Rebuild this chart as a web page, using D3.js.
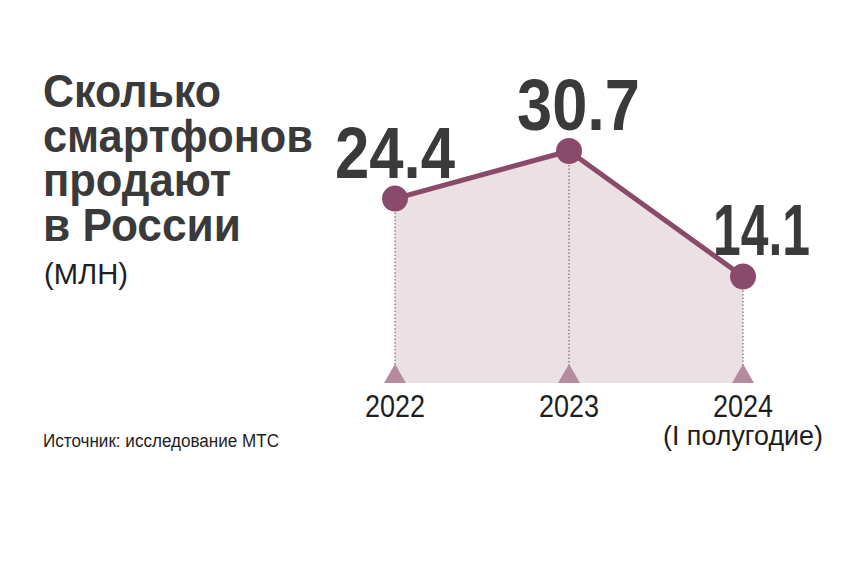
<!DOCTYPE html>
<html><head><meta charset="utf-8">
<script src="https://cdn.jsdelivr.net/npm/d3@7"></script>
<style>
html,body{margin:0;padding:0;background:#fff;}
svg{display:block;}
</style></head>
<body>
<script>
const categories = ["2022", "2023", "2024"];
const subLabels = ["", "", "(I полугодие)"];
const values = [24.4, 30.7, 14.1];
const valueLabels = ["24.4", "30.7", "14.1"];
const titleLines = ["Сколько", "смартфонов", "продают", "в России"];
const unitLabel = "(МЛН)";
const sourceText = "Источник: исследование МТС";

const W = 868, H = 576;
const svg = d3.select("body").append("svg").attr("width", W).attr("height", H);
svg.append("rect").attr("width", W).attr("height", H).attr("fill", "#fff");

const font = "'Liberation Sans', Arial, Helvetica, sans-serif";
const textColor = "#3a3a3a";

// helper: fit text horizontally (condensed look) to a width
function fit(sel, w) {
  sel.attr("textLength", w).attr("lengthAdjust", "spacingAndGlyphs");
}

const x = d3.scalePoint().domain(categories).range([395, 743]);
const y = d3.scaleLinear().domain([0, 30.7]).range([383, 151]);

const data = categories.map((c, i) => ({c, v: values[i], lab: valueLabels[i], sub: subLabels[i]}));

// area
const area = d3.area().x(d => x(d.c)).y0(y(0)).y1(d => y(d.v));
svg.append("path").datum(data).attr("d", area).attr("fill", "#ebe0e3");

// dotted lines
svg.selectAll(".drop").data(data).join("line")
  .attr("x1", d => x(d.c)).attr("x2", d => x(d.c))
  .attr("y1", d => y(d.v)).attr("y2", y(0))
  .attr("stroke", "#555").attr("stroke-width", 1).attr("stroke-dasharray", "1.5,2");

// triangles
const triH = 19, triW = 22;
svg.selectAll(".tri").data(data).join("path")
  .attr("d", d => {
    const cx = x(d.c), b = y(0);
    return `M${cx - triW/2},${b} L${cx},${b - triH} L${cx + triW/2},${b} Z`;
  })
  .attr("fill", "#b68b9d");

// line
const line = d3.line().x(d => x(d.c)).y(d => y(d.v));
svg.append("path").datum(data).attr("d", line)
  .attr("fill", "none").attr("stroke", "#8a4a6a").attr("stroke-width", 5).attr("stroke-linejoin", "round");

// dots
svg.selectAll(".dot").data(data).join("circle")
  .attr("cx", d => x(d.c)).attr("cy", d => y(d.v)).attr("r", 13)
  .attr("fill", "#8a4a6b");

// value labels
const valLayout = [{dx: 0, dy: -21, w: 120}, {dx: 9.5, dy: -21, w: 123}, {dx: 18.5, dy: -21.5, w: 97}];
svg.selectAll(".val").data(data).join("text")
  .attr("x", (d, i) => x(d.c) + valLayout[i].dx - valLayout[i].w / 2)
  .attr("y", (d, i) => y(d.v) + valLayout[i].dy)
  .attr("font-family", font).attr("font-weight", "bold")
  .attr("font-size", 72).attr("fill", textColor)
  .text(d => d.lab)
  .each(function(d, i) { fit(d3.select(this), valLayout[i].w); });

// year labels
svg.selectAll(".yr").data(data).join("text")
  .attr("x", d => x(d.c) - 30).attr("y", 417)
  .attr("font-family", font).attr("font-size", 31).attr("fill", "#1e1e1e")
  .text(d => d.c)
  .each(function() { fit(d3.select(this), 60); });
svg.selectAll(".sub").data(data.filter(d => d.sub)).join("text")
  .attr("x", 663).attr("y", 445)
  .attr("font-family", font).attr("font-size", 28).attr("fill", "#1e1e1e")
  .text(d => d.sub)
  .each(function() { fit(d3.select(this), 160); });

// title
const titleW = [178, 270, 188, 198];
svg.selectAll(".title").data(titleLines).join("text")
  .attr("x", 43).attr("y", (d, i) => 107 + i * 44.7)
  .attr("font-family", font).attr("font-weight", "bold")
  .attr("font-size", 47).attr("fill", textColor)
  .text(d => d)
  .each(function(d, i) { fit(d3.select(this), titleW[i]); });
svg.append("text").attr("x", 44).attr("y", 284)
  .attr("font-family", font).attr("font-size", 29).attr("fill", "#1e1e1e")
  .text(unitLabel)
  .call(fit, 84);

// source
svg.append("text").attr("x", 43).attr("y", 447)
  .attr("font-family", font).attr("font-size", 18).attr("fill", "#1e1e1e")
  .text(sourceText)
  .call(fit, 236);
</script>
</body></html>
